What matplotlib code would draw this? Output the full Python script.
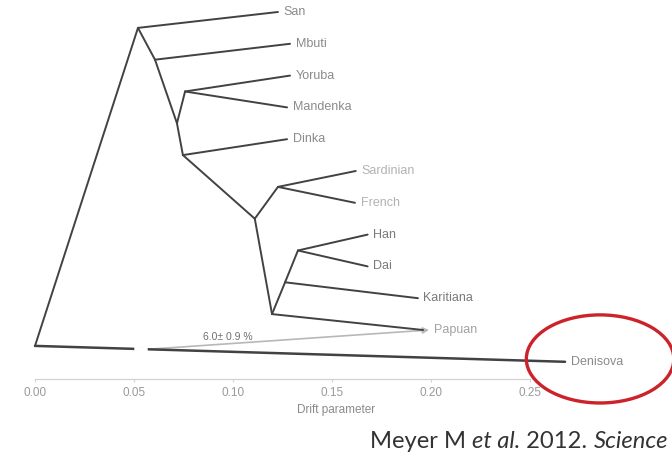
import matplotlib
matplotlib.use("Agg")
import matplotlib.pyplot as plt
from matplotlib.patches import Ellipse

# ---- tree data (TreeMix drift tree) ----
node_names = ["root", "n1", "n2", "n3", "n4", "n5", "n6", "n7", "n8", "n9", "n10",
              "San", "Mbuti", "Yoruba", "Mandenka", "Dinka", "Sardinian", "French",
              "Han", "Dai", "Karitiana", "Papuan", "Denisova"]
node_parent = [None, "root", "n1", "n2", "n3", "n3", "n5", "n6", "n6", "n8", "n9",
               "n1", "n2", "n4", "n4", "n5", "n7", "n7",
               "n10", "n10", "n9", "n8", "root"]
node_drift = [0.0, 0.052, 0.0606, 0.0717, 0.0758, 0.0747, 0.111, 0.1227, 0.1197, 0.1263, 0.1328,
              0.1227, 0.1288, 0.1288, 0.1273, 0.1273, 0.162, 0.1616,
              0.168, 0.168, 0.1934, 0.196, 0.2677]

leaf_order = ["San", "Mbuti", "Yoruba", "Mandenka", "Dinka", "Sardinian", "French",
              "Han", "Dai", "Karitiana", "Papuan", "Denisova"]
leaf_colors = ["#8a8a8a", "#8a8a8a", "#8a8a8a", "#8a8a8a", "#8a8a8a", "#b2b2b2", "#b2b2b2",
               "#7a7a7a", "#7a7a7a", "#7a7a7a", "#a2a2a2", "#8a8a8a"]

# migration edge: from the root->Denisova branch into Papuan
mig_branch_child = "Denisova"
mig_fraction = 0.213
mig_target = "Papuan"
mig_label = "6.0\u00b1 0.9 %"

x_ticks = [0.00, 0.05, 0.10, 0.15, 0.20, 0.25]
x_tick_labels = ["0.00", "0.05", "0.10", "0.15", "0.20", "0.25"]
x_title = "Drift parameter"
citation = [("Meyer M ", "normal"), ("et al.", "italic"), (" 2012. ", "normal"), ("Science", "italic")]

# ---- layout of the tree ----
drift = dict(zip(node_names, node_drift))
parent = dict(zip(node_names, node_parent))
children = {n: [] for n in node_names}
for n, p in zip(node_names, node_parent):
    if p is not None:
        children[p].append(n)
leaf_rank = {n: i for i, n in enumerate(leaf_order)}


def min_rank(n):
    if not children[n]:
        return leaf_rank[n]
    return min(min_rank(c) for c in children[n])


for n in children:
    children[n].sort(key=min_rank)

# in-order placement: leaves on integer rows, internal nodes in the gaps
ypos = {}
counter = [0.0]


def inorder(n):
    ch = children[n]
    if not ch:
        ypos[n] = counter[0]
        counter[0] += 0.5
        return
    inorder(ch[0])
    ypos[n] = counter[0]
    counter[0] += 0.5
    for c in ch[1:]:
        inorder(c)


inorder("root")

plt.rcParams["font.family"] = ["Liberation Sans", "DejaVu Sans"]

fig = plt.figure(figsize=(6.72, 4.59), dpi=100)
ax = fig.add_axes([0, 80 / 459, 1, 379 / 459])
ax.set_xlim(-35 / 1980, 637 / 1980)
ax.set_ylim(11.541, -0.377)

tree_color = "#424242"
for n in node_names:
    p = parent[n]
    if p is None:
        continue
    lw = 1.8 if n == "Denisova" else 1.4
    ax.plot([drift[p], drift[n]], [ypos[p], ypos[n]], color=tree_color, lw=lw,
            solid_capstyle="round", zorder=3)

# migration edge
p = parent[mig_branch_child]
dx = drift[mig_branch_child] - drift[p]
dy = ypos[mig_branch_child] - ypos[p]
sx = drift[p] + mig_fraction * dx
sy = ypos[p] + mig_fraction * dy
tx, ty = drift[mig_target], ypos[mig_target]
# small break on the branch just before the edge leaves it
f0, f1 = mig_fraction - 0.022, mig_fraction - 0.004
ax.plot([drift[p] + f0 * dx, drift[p] + f1 * dx],
        [ypos[p] + f0 * dy, ypos[p] + f1 * dy],
        color="white", lw=2.8, zorder=4)
ax.annotate("", xy=(tx + 0.003, ty), xytext=(sx, sy),
            arrowprops=dict(arrowstyle="-|>,head_length=0.35,head_width=0.18",
                            color="#b8b8b8", lw=1.2, shrinkA=0, shrinkB=0), zorder=2)
lx = sx + 0.2 * (tx - sx)
ly = sy + 0.2 * (ty - sy)
ax.annotate(mig_label, xy=(lx, ly), xytext=(0, 6), textcoords="offset points",
            ha="left", va="center", fontsize=7.5, color="#6e6e6e")

# leaf labels
for n, c in zip(leaf_order, leaf_colors):
    off = 8 if n == mig_target else 4
    ax.annotate(n, xy=(drift[n], ypos[n]), xytext=(off, 0), textcoords="offset points",
                ha="left", va="center", fontsize=9, color=c)

# axis
for s in ["left", "right", "top"]:
    ax.spines[s].set_visible(False)
ax.spines["bottom"].set_bounds(x_ticks[0], x_ticks[-1])
ax.spines["bottom"].set_color("#d2d2d2")
ax.spines["bottom"].set_linewidth(0.9)
ax.set_xticks(x_ticks)
ax.set_xticklabels(x_tick_labels)
ax.tick_params(axis="x", length=2.5, width=0.8, color="#d2d2d2", pad=3,
               labelsize=8.5, labelcolor="#9a9a9a")
ax.set_yticks([])
ax.set_xlabel(x_title, fontsize=8.5, color="#8a8a8a", labelpad=4)

# highlight around Denisova
ell = Ellipse((0.2854, 10.91), 0.0745, 2.77, fill=False, edgecolor="#cc2229",
              lw=2.4, clip_on=False, zorder=5)
ax.add_patch(ell)

# citation, right side
fig.canvas.draw()
renderer = fig.canvas.get_renderer()
size = 14
pieces = []
x = 370
for txt, style in citation:
    t = fig.text(x / 672, 1 - 441 / 459, txt, fontsize=size, style=style,
                 family=["Lato", "DejaVu Sans"], color="#333333", va="center", ha="left")
    x += t.get_window_extent(renderer).width
    pieces.append(t)
# scale to span the target width
scale = 298 / (x - 370)
x = 370
for t in pieces:
    t.set_fontsize(size * scale)
    t.set_x(x / 672)
    x += t.get_window_extent(renderer).width

fig.savefig("out.png", dpi=100)
